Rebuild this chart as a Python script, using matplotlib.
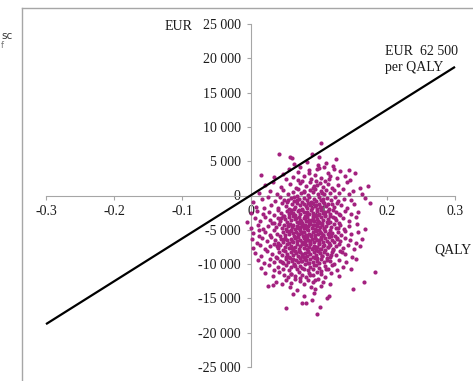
import matplotlib.pyplot as plt
from matplotlib.ticker import FuncFormatter
from matplotlib.lines import Line2D

# Incremental QALY / incremental cost pairs
samples = [
    (0.103, 7650), (0.042, 6050), (0.090, 6100), (0.058, 5650), (0.061, 5400), (0.100, 5600), (0.126, 5300),
    (0.064, 4600), (0.073, 4150), (0.083, 4850), (0.099, 4450), (0.108, 4200), (0.111, 4800), (0.121, 4350),
    (0.015, 3000), (0.047, 3150), (0.056, 3850), (0.069, 3400), (0.086, 3700), (0.094, 3050), (0.098, 3900),
    (0.113, 3300), (0.122, 3850), (0.131, 3500), (0.144, 3750), (0.153, 3350),
    (0.034, 2700), (0.052, 2350), (0.063, 2750), (0.075, 2100), (0.079, 2900), (0.089, 2450), (0.104, 2600),
    (0.109, 2050), (0.117, 2900), (0.127, 2500), (0.139, 2850), (0.146, 2300), (0.096, 2150),
    (0.022, 1500), (0.033, 1900), (0.045, 1250), (0.058, 1650), (0.067, 1150), (0.072, 1800), (0.081, 1400),
    (0.087, 1950), (0.092, 1100), (0.097, 1600), (0.102, 1850), (0.106, 1300), (0.113, 1700), (0.119, 1050),
    (0.128, 1550), (0.141, 1900), (0.160, 1150), (0.172, 1450),
    (0.012, 300), (0.028, 650), (0.039, 200), (0.048, 850), (0.055, 150), (0.062, 550), (0.069, 900),
    (0.074, 300), (0.078, 700), (0.084, 100), (0.088, 850), (0.091, 450), (0.095, 950), (0.099, 250),
    (0.103, 650), (0.108, 150), (0.111, 800), (0.116, 400), (0.123, 750), (0.130, 350), (0.136, 900),
    (0.145, 200), (0.151, 600), (0.164, 250),
    (0.004, -900), (0.017, -550), (0.025, -250), (0.036, -800), (0.043, -150), (0.049, -650), (0.053, -950),
    (0.059, -350), (0.064, -750), (0.068, -100), (0.071, -550), (0.076, -900), (0.079, -300), (0.083, -650),
    (0.086, -150), (0.089, -950), (0.093, -450), (0.096, -800), (0.100, -200), (0.104, -600), (0.107, -950),
    (0.112, -350), (0.118, -700), (0.124, -150), (0.129, -850), (0.137, -450), (0.148, -700), (0.168, -400),
    (0.008, -1700), (0.020, -1850), (0.030, -1350), (0.041, -1750), (0.046, -1100), (0.052, -1550),
    (0.057, -1950), (0.061, -1250), (0.065, -1650), (0.068, -1050), (0.072, -1450), (0.075, -1900),
    (0.078, -1200), (0.081, -1600), (0.084, -1050), (0.087, -1400), (0.090, -1850), (0.092, -1150),
    (0.095, -1550), (0.098, -1950), (0.101, -1300), (0.104, -1700), (0.108, -1100), (0.111, -1550),
    (0.115, -1900), (0.119, -1250), (0.123, -1650), (0.127, -1050), (0.133, -1450), (0.141, -1850),
    (0.152, -1250), (0.175, -1100),
    (0.000, -2600), (0.010, -2200), (0.018, -2750), (0.027, -2350), (0.034, -2900), (0.040, -2150),
    (0.045, -2550), (0.049, -2950), (0.053, -2300), (0.056, -2700), (0.059, -2100), (0.063, -2500),
    (0.066, -2850), (0.069, -2250), (0.072, -2650), (0.075, -2050), (0.078, -2450), (0.080, -2950),
    (0.083, -2350), (0.086, -2750), (0.089, -2150), (0.091, -2550), (0.094, -2900), (0.097, -2300),
    (0.100, -2700), (0.103, -2100), (0.106, -2500), (0.109, -2850), (0.113, -2250), (0.117, -2650),
    (0.121, -2050), (0.126, -2450), (0.131, -2850), (0.138, -2300), (0.147, -2700), (0.158, -2400),
    (-0.005, -3850), (0.006, -3300), (0.014, -3700), (0.022, -3150), (0.029, -3550), (0.035, -3950),
    (0.040, -3250), (0.044, -3650), (0.048, -3050), (0.051, -3450), (0.054, -3850), (0.057, -3200),
    (0.060, -3600), (0.063, -3000), (0.066, -3400), (0.068, -3800), (0.071, -3150), (0.073, -3550),
    (0.076, -3950), (0.078, -3300), (0.081, -3700), (0.083, -3100), (0.086, -3500), (0.088, -3900),
    (0.091, -3250), (0.093, -3650), (0.096, -3050), (0.098, -3450), (0.101, -3850), (0.104, -3200),
    (0.107, -3600), (0.110, -3000), (0.113, -3400), (0.117, -3800), (0.121, -3150), (0.125, -3550),
    (0.130, -3950), (0.136, -3300), (0.144, -3700), (0.155, -3200),
    (0.001, -4700), (0.011, -4250), (0.019, -4850), (0.026, -4400), (0.032, -4050), (0.037, -4600),
    (0.042, -4150), (0.046, -4750), (0.049, -4350), (0.052, -4950), (0.055, -4500), (0.058, -4100),
    (0.061, -4650), (0.063, -4250), (0.066, -4850), (0.068, -4400), (0.071, -4050), (0.073, -4600),
    (0.075, -4200), (0.078, -4800), (0.080, -4350), (0.083, -4950), (0.085, -4500), (0.087, -4100),
    (0.090, -4700), (0.092, -4250), (0.095, -4900), (0.097, -4450), (0.100, -4050), (0.102, -4650),
    (0.105, -4250), (0.108, -4850), (0.111, -4400), (0.114, -4000), (0.118, -4600), (0.122, -4200),
    (0.126, -4800), (0.131, -4350), (0.137, -4950), (0.145, -4500), (0.156, -4150), (0.168, -4950),
    (0.004, -5500), (0.013, -5900), (0.021, -5250), (0.028, -5700), (0.034, -5100), (0.039, -5550),
    (0.043, -5950), (0.047, -5300), (0.050, -5750), (0.053, -5150), (0.056, -5600), (0.059, -5050),
    (0.062, -5450), (0.064, -5850), (0.067, -5250), (0.069, -5650), (0.072, -5050), (0.074, -5500),
    (0.077, -5900), (0.079, -5300), (0.082, -5700), (0.084, -5100), (0.086, -5550), (0.089, -5950),
    (0.091, -5350), (0.094, -5750), (0.096, -5150), (0.099, -5600), (0.101, -5000), (0.104, -5400),
    (0.107, -5800), (0.110, -5200), (0.113, -5650), (0.116, -5050), (0.120, -5450), (0.124, -5900),
    (0.128, -5300), (0.133, -5700), (0.139, -5150), (0.147, -5600), (0.158, -5350), (0.012, -5050),
    (0.002, -6400), (0.009, -6900), (0.017, -6200), (0.024, -6650), (0.030, -6050), (0.036, -6500),
    (0.041, -6900), (0.045, -6300), (0.048, -6750), (0.051, -6150), (0.054, -6550), (0.057, -6950),
    (0.060, -6350), (0.063, -6800), (0.065, -6200), (0.068, -6600), (0.070, -6000), (0.073, -6450),
    (0.075, -6850), (0.078, -6250), (0.080, -6700), (0.083, -6100), (0.085, -6500), (0.088, -6900),
    (0.090, -6300), (0.093, -6750), (0.095, -6150), (0.098, -6550), (0.100, -6950), (0.103, -6350),
    (0.106, -6800), (0.109, -6200), (0.112, -6600), (0.115, -6050), (0.119, -6450), (0.123, -6850),
    (0.127, -6250), (0.132, -6700), (0.138, -6150), (0.146, -6550), (0.155, -6900), (0.164, -6300),
    (0.004, -7600), (0.014, -7250), (0.022, -7800), (0.029, -7400), (0.035, -7050), (0.040, -7650),
    (0.044, -7200), (0.048, -7900), (0.051, -7450), (0.054, -7050), (0.057, -7700), (0.060, -7300),
    (0.063, -7950), (0.066, -7500), (0.068, -7100), (0.071, -7750), (0.073, -7350), (0.076, -7000),
    (0.078, -7600), (0.081, -7200), (0.083, -7850), (0.086, -7450), (0.088, -7050), (0.091, -7700),
    (0.093, -7300), (0.096, -7900), (0.098, -7500), (0.101, -7100), (0.104, -7750), (0.107, -7350),
    (0.110, -7950), (0.113, -7550), (0.117, -7150), (0.121, -7800), (0.125, -7400), (0.130, -7050),
    (0.136, -7650), (0.143, -7250), (0.152, -7850), (0.161, -7400),
    (0.007, -8400), (0.016, -8750), (0.024, -8150), (0.031, -8600), (0.037, -8950), (0.042, -8300),
    (0.046, -8700), (0.050, -8100), (0.053, -8500), (0.056, -8900), (0.059, -8250), (0.062, -8650),
    (0.065, -8050), (0.067, -8450), (0.070, -8850), (0.073, -8200), (0.075, -8600), (0.078, -8950),
    (0.080, -8350), (0.083, -8750), (0.085, -8100), (0.088, -8500), (0.091, -8900), (0.093, -8250),
    (0.096, -8650), (0.099, -8050), (0.102, -8450), (0.105, -8850), (0.108, -8200), (0.112, -8600),
    (0.116, -8950), (0.120, -8300), (0.125, -8700), (0.131, -8150), (0.139, -8550), (0.149, -8900),
    (0.011, -9400), (0.020, -9800), (0.028, -9200), (0.034, -9650), (0.039, -9050), (0.044, -9500),
    (0.048, -9900), (0.052, -9300), (0.055, -9700), (0.058, -9100), (0.061, -9550), (0.064, -9950),
    (0.067, -9350), (0.070, -9750), (0.073, -9150), (0.076, -9600), (0.079, -9000), (0.082, -9450),
    (0.085, -9850), (0.088, -9250), (0.091, -9650), (0.094, -9050), (0.097, -9500), (0.100, -9900),
    (0.104, -9300), (0.108, -9700), (0.112, -9150), (0.117, -9550), (0.123, -9950), (0.130, -9350),
    (0.140, -9750), (0.155, -9200),
    (0.016, -10500), (0.027, -10150), (0.035, -10800), (0.041, -10350), (0.047, -10650), (0.052, -10100),
    (0.056, -10900), (0.060, -10450), (0.064, -10200), (0.068, -10750), (0.072, -10300), (0.076, -10600),
    (0.080, -10050), (0.084, -10850), (0.088, -10400), (0.092, -10700), (0.096, -10150), (0.100, -10550),
    (0.104, -10950), (0.109, -10250), (0.114, -10650), (0.120, -10100), (0.127, -10800), (0.136, -10350),
    (0.148, -10700),
    (0.022, -11300), (0.033, -11750), (0.042, -11200), (0.049, -11600), (0.055, -11950), (0.060, -11400),
    (0.066, -11800), (0.071, -11150), (0.076, -11550), (0.081, -11900), (0.086, -11300), (0.091, -11650),
    (0.097, -11100), (0.103, -11500), (0.110, -11850), (0.118, -11250), (0.130, -11700), (0.182, -11150),
    (0.038, -12600), (0.046, -12900), (0.052, -12300), (0.059, -12700), (0.065, -12150), (0.072, -12500),
    (0.079, -12850), (0.085, -12250), (0.092, -12650), (0.099, -12100), (0.107, -12550), (0.116, -12900),
    (0.166, -12600),
    (0.026, -13150), (0.033, -13050), (0.058, -13400), (0.068, -13800), (0.089, -13300), (0.095, -13700),
    (0.104, -13200), (0.150, -13600),
    (0.062, -14300), (0.079, -14600), (0.093, -14200), (0.112, -14900), (0.115, -14650),
    (0.052, -16400), (0.075, -15700), (0.081, -15600), (0.098, -17300), (0.102, -16250), (0.090, -15200),
]
# extra points in the dense core of the cloud
core_samples = [
    (0.0545, -600), (0.0665, -3250), (0.0715, -8100), (0.0775, -5350), (0.0825, -2750), (0.0875, -6650),
    (0.0925, -4350), (0.0975, -9150), (0.1025, -1650), (0.1075, -7250), (0.1125, -3850), (0.1175, -5950),
    (0.0605, -7700), (0.0635, -1900), (0.0695, -4700), (0.0745, -9600), (0.0795, -3300), (0.0845, -8300),
    (0.0895, -1150), (0.0945, -6200), (0.0995, -3650), (0.1045, -8800), (0.1095, -2400), (0.1145, -6950),
    (0.0575, -5200), (0.0655, -10300), (0.0705, -2150), (0.0765, -6900), (0.0815, -4600), (0.0865, -9900),
    (0.0915, -2950), (0.0965, -7550), (0.1015, -5250), (0.1065, -450), (0.1115, -9350), (0.1165, -3050),
    (0.0525, -8950), (0.0585, -2550), (0.0675, -6100), (0.0735, -3750), (0.0785, -10700), (0.0855, -4050),
    (0.0905, -7850), (0.0955, -1450), (0.1005, -6450), (0.1055, -3950), (0.1105, -10650), (0.1155, -5500),
    (0.1205, -8000), (0.0485, -6300), (0.0555, -4250), (0.0625, -9250), (0.0685, -700), (0.0755, -4450),
    (0.0805, -7050), (0.0835, -1800), (0.0885, -5700), (0.0935, -10150), (0.0985, -2850), (0.1035, -6050),
    (0.1085, -4750), (0.1135, -1250), (0.1185, -8650), (0.1235, -3350), (0.0595, -11450), (0.0725, -12050),
    (0.0875, -11650), (0.0945, -12350), (0.0645, -250), (0.0785, 550), (0.0925, 1450), (0.1055, 350),
    (0.0695, 2300), (0.0855, 3350), (0.1005, 4000), (0.1155, 2450), (0.0445, -3350), (0.0395, -7350),
    (0.0455, -9650), (0.1265, -6350), (0.1305, -2750), (0.1345, -8250), (0.1285, -4700), (0.0715, -5550),
    (0.0835, -6450), (0.0955, -5050), (0.1065, -5750), (0.0755, -8750), (0.0895, -3550), (0.1025, -7850),
    (0.0615, -6700), (0.0805, -9300), (0.0975, -4050), (0.1135, -7500),
]
qaly_diff = [s[0] for s in samples + core_samples]
cost_diff = [s[1] for s in samples + core_samples]

threshold = 62500  # EUR per QALY
line_qaly = [-0.3, 0.3]
x_ticks = [-0.3, -0.2, -0.1, 0, 0.1, 0.2, 0.3]
y_ticks = list(range(-25000, 25001, 5000))

plt.rcParams['font.family'] = ['Liberation Serif', 'DejaVu Serif']

W, H = 473, 381
fig = plt.figure(figsize=(W / 100, H / 100), dpi=100)
ax = fig.add_axes([46 / W, (H - 367) / H, (455 - 46) / W, (367 - 24) / H])
ax.set_xlim(-0.3, 0.3)
ax.set_ylim(-25000, 25000)

ax.scatter(qaly_diff, cost_diff, s=9, color='#a3217f', linewidths=0, zorder=3, clip_on=False)
ax.plot(line_qaly, [q * threshold for q in line_qaly], color='black', lw=1.6, zorder=4,
        solid_capstyle='butt', clip_on=False)

for side in ['top', 'right']:
    ax.spines[side].set_visible(False)
for side in ['left', 'bottom']:
    ax.spines[side].set_position(('data', 0))
    ax.spines[side].set_color('#a6a6a6')
    ax.spines[side].set_linewidth(0.8)

ax.set_xticks(x_ticks)
ax.set_yticks(y_ticks)
ax.xaxis.set_major_formatter(FuncFormatter(lambda v, p: '0' if abs(v) < 1e-9 else f'{v:.1f}'))
ax.yaxis.set_major_formatter(FuncFormatter(lambda v, p: f'{int(v):,}'.replace(',', ' ')))
ax.tick_params(axis='x', direction='out', length=3, width=0.8, color='#a6a6a6',
               labelsize=10, pad=4, labelcolor='#1a1a1a')
ax.tick_params(axis='y', direction='out', length=3, width=0.8, color='#a6a6a6',
               labelsize=10, pad=4, labelcolor='#1a1a1a')

ax.text(-0.105, 24600, 'EUR', fontsize=10, ha='center', va='center', color='#1a1a1a')
ax.text(0.297, -7900, 'QALY', fontsize=10, ha='center', va='center', color='#1a1a1a')
ax.text(0.198, 19800, 'EUR  62 500\nper QALY', fontsize=10, ha='left', va='center',
        color='#1a1a1a', linespacing=1.35)

# outer chart frame (left and top edges visible)
fig.add_artist(Line2D([22 / W, 22 / W], [0, (H - 8) / H], color='#a6a6a6', lw=1.0))
fig.add_artist(Line2D([22 / W, 1], [(H - 8) / H, (H - 8) / H], color='#a6a6a6', lw=1.0))

# text from the neighbouring panel, clipped in the source image
fig.text(1 / W, (H - 36) / H, 'sc', fontsize=7.5, family='DejaVu Sans', color='#333333',
         va='center', ha='left')
fig.text(1 / W, (H - 46) / H, 'f', fontsize=6, family='DejaVu Sans', color='#777777',
         va='center', ha='left')

fig.savefig('out.png', dpi=100)
